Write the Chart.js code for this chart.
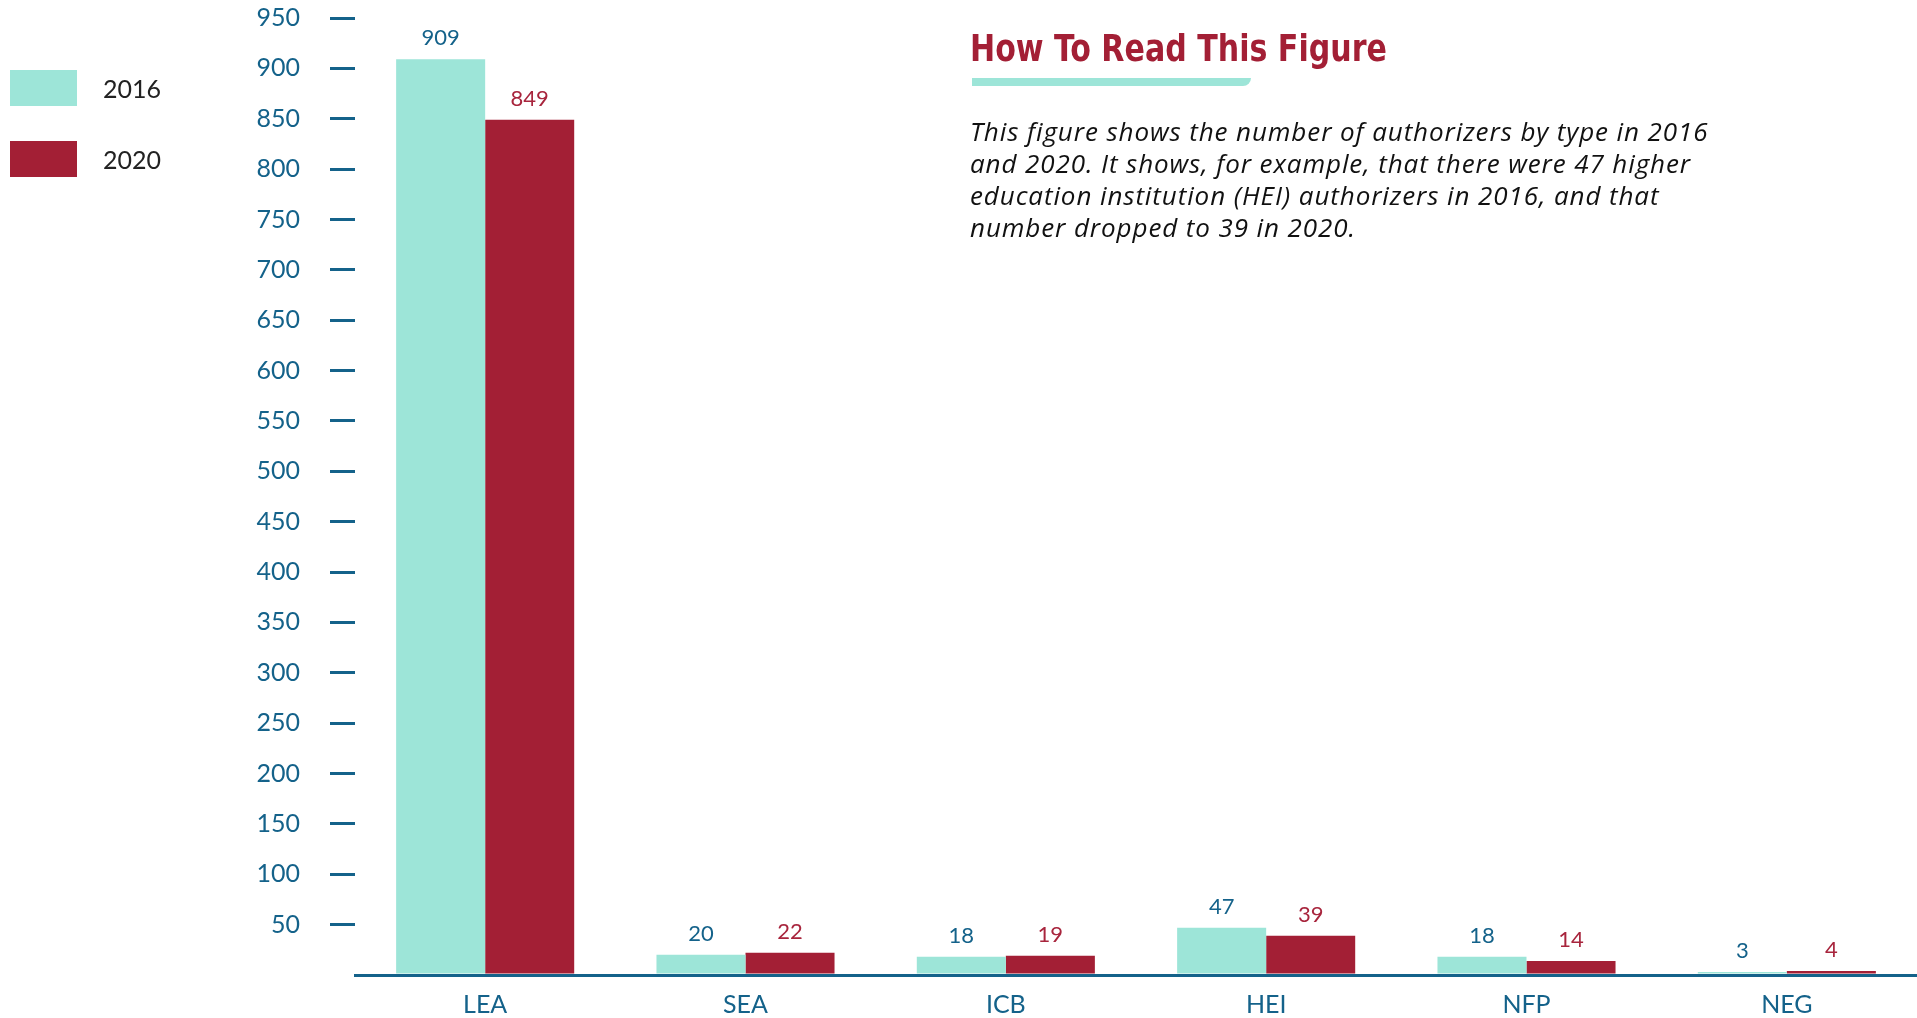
<!DOCTYPE html>
<html>
<head>
<meta charset="utf-8">
<title>Authorizers by type</title>
<script src="https://cdn.jsdelivr.net/npm/chart.js@4.4.0/dist/chart.umd.min.js"></script>
<style>
  html, body { margin: 0; padding: 0; background: #fff; overflow: hidden; }
  #wrap { position: relative; width: 1917px; height: 1018px; }
  #authChart { position: absolute; left: 0; top: 0; }

  #legend { position: absolute; left: 10px; top: 70px; font-family: Lato, "Open Sans", sans-serif; }
  #legend .item { display: flex; align-items: center; height: 36px; margin-bottom: 35px; }
  #legend .swatch { width: 67px; height: 36px; }
  #legend .txt { margin-left: 26px; font-size: 25px; color: #222; }

  #howTo { position: absolute; left: 970px; top: 29px; }
  #howTo h2 {
    margin: 0; font-family: "DejaVu Sans Condensed", "DejaVu Sans", sans-serif;
    font-weight: bold; font-size: 38px; line-height: 1; color: #a31f35; white-space: nowrap;
    transform: scaleX(0.88); transform-origin: 0 0;
  }
  #howTo .rule {
    position: absolute; left: 2px; top: 49px; width: 279px; height: 8px;
    background: #9de5d8; border-bottom-right-radius: 8px;
  }
  #howTo p {
    position: absolute; left: 0; top: 86px; margin: 0; white-space: nowrap;
    font-family: "Open Sans", Lato, sans-serif; font-style: italic;
    font-size: 26px; letter-spacing: 0.9px; line-height: 32px; color: #111;
  }
</style>
</head>
<body>
<div id="wrap">
  <canvas id="authChart" width="1917" height="1018"></canvas>
  <div id="legend"></div>
  <div id="howTo">
    <h2>How To Read This Figure</h2>
    <div class="rule"></div>
    <p>This figure shows the number of authorizers by type in 2016<br>
and 2020. It shows, for example, that there were 47 higher<br>
education institution (HEI) authorizers in 2016, and that<br>
number dropped to 39 in 2020.</p>
  </div>
</div>

<script>
document.addEventListener('DOMContentLoaded', () => {

    const types      = ['LEA', 'SEA', 'ICB', 'HEI', 'NFP', 'NEG'];
    const years      = ['2016', '2020'];
    const counts2016 = [909, 20, 18, 47, 18, 3];
    const counts2020 = [849, 22, 19, 39, 14, 4];

    const yMax  = 950;
    const yStep = 50;

    const TEAL  = '#9de5d8';
    const RED   = '#a31f35';
    const BLUE  = '#14628a';
    const FONT  = 'Lato, "Open Sans", sans-serif';

    /* value printed above each bar */
    const barValues = {
        id: 'barValues',
        afterDatasetsDraw(chart) {
            const ctx = chart.ctx;
            ctx.save();
            ctx.font = '22px ' + FONT;
            ctx.textAlign = 'center';
            ctx.textBaseline = 'middle';
            chart.data.datasets.forEach((ds, i) => {
                ctx.fillStyle = ds.valueColor;
                chart.getDatasetMeta(i).data.forEach((bar, j) => {
                    ctx.fillText(ds.data[j], bar.x, bar.y - 21);
                });
            });
            ctx.restore();
        }
    };

    const chart = new Chart(document.getElementById('authChart'), {
        type: 'bar',
        data: {
            labels: types,
            datasets: [
                {
                    label: years[0],
                    data: counts2016,
                    backgroundColor: TEAL,
                    valueColor: BLUE
                },
                {
                    label: years[1],
                    data: counts2020,
                    backgroundColor: RED,
                    valueColor: '#a8253d'
                }
            ]
        },
        options: {
            responsive: false,
            animation: false,
            layout: { padding: { top: 18, left: 0, right: 0, bottom: 0 } },
            datasets: {
                bar: { categoryPercentage: 0.684, barPercentage: 1 }
            },
            plugins: {
                legend: { display: false },
                tooltip: { enabled: false }
            },
            scales: {
                x: {
                    grid: { display: false, drawTicks: false },
                    border: { display: true, color: BLUE, width: 3 },
                    ticks: {
                        color: BLUE,
                        font: { family: FONT, size: 25 },
                        padding: 15
                    },
                    afterFit(scale) { scale.height = 43; }
                },
                y: {
                    min: 0,
                    max: yMax,
                    grid: {
                        drawOnChartArea: false,
                        drawTicks: true,
                        tickLength: 25,
                        lineWidth: 3,
                        color: c => (c.tick && c.tick.value === 0) ? 'rgba(0,0,0,0)' : BLUE
                    },
                    border: { display: false },
                    ticks: {
                        stepSize: yStep,
                        color: BLUE,
                        font: { family: FONT, size: 25 },
                        padding: 30,
                        callback: v => v === 0 ? '' : v
                    },
                    afterFit(scale) {
                        scale.width = 355;
                        scale.paddingTop = 0;
                        scale.paddingBottom = 0;
                    }
                }
            }
        },
        plugins: [barValues]
    });

    /* legend built from the datasets */
    const legend = document.getElementById('legend');
    chart.data.datasets.forEach(ds => {
        const item = document.createElement('div');
        item.className = 'item';
        item.innerHTML = '<div class="swatch" style="background:' + ds.backgroundColor +
                         '"></div><span class="txt">' + ds.label + '</span>';
        legend.appendChild(item);
    });

});
</script>
</body>
</html>
